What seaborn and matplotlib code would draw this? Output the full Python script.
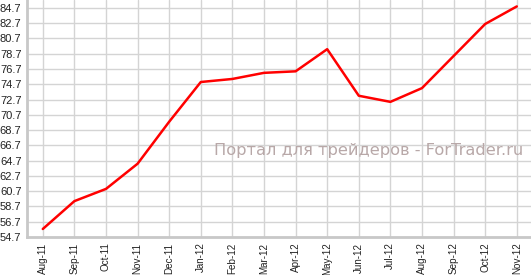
import matplotlib
matplotlib.use("Agg")
import matplotlib.pyplot as plt
import seaborn as sns
import pandas as pd
import numpy as np

months = ["Aug-11", "Sep-11", "Oct-11", "Nov-11", "Dec-11", "Jan-12", "Feb-12", "Mar-12",
          "Apr-12", "May-12", "Jun-12", "Jul-12", "Aug-12", "Sep-12", "Oct-12", "Nov-12"]
values = [55.75, 59.4, 61.0, 64.3, 69.8, 75.0, 75.4, 76.2, 76.4, 79.3, 73.2, 72.4, 74.2, 78.4, 82.6, 84.9]
yticks = [54.7, 56.7, 58.7, 60.7, 62.7, 64.7, 66.7, 68.7, 70.7, 72.7, 74.7, 76.7, 78.7, 80.7, 82.7, 84.7]
watermark = "Портал для трейдеров - ForTrader.ru"

sns.set_style("white")
plt.rcParams['font.family'] = ['Liberation Sans', 'DejaVu Sans']

df = pd.DataFrame({"idx": np.arange(len(months)), "value": values})

fig = plt.figure(figsize=(5.31, 2.75), dpi=100)
ax = fig.add_axes([27/531, 38/275, 1 - 27/531, 237/275])

sns.lineplot(data=df, x="idx", y="value", ax=ax, color="#ff0000", linewidth=1.8)

ax.set_xlim(-0.5, len(months) - 1 + 0.45)
ax.set_ylim(54.7, 54.7 + 237 / 15.27 * 2)
ax.set_xticks(np.arange(len(months)))
ax.set_xticklabels(months, rotation=90, fontsize=7.1, color="#222222")
ax.set_yticks(yticks)
ax.set_yticklabels([f"{t:.1f}" for t in yticks], fontsize=8, color="#222222")
ax.set_xlabel("")
ax.set_ylabel("")

ax.grid(True, color="#d4d4d4", linewidth=1.0)
ax.set_axisbelow(True)
for side in ["top", "right"]:
    ax.spines[side].set_visible(False)
for side in ["left", "bottom"]:
    ax.spines[side].set_color("#c8c8c8")
    ax.spines[side].set_linewidth(2)
ax.tick_params(axis="x", length=3, width=1, color="#a0a0a0", pad=1)
ax.tick_params(axis="y", length=3, width=1, color="#a0a0a0", pad=1)

ax.text(0.985, 0.367, watermark, transform=ax.transAxes, ha="right", va="center",
        fontsize=11.7, color="#b8a8a8", family=["DejaVu Sans"])

fig.savefig("out.png", dpi=100)
